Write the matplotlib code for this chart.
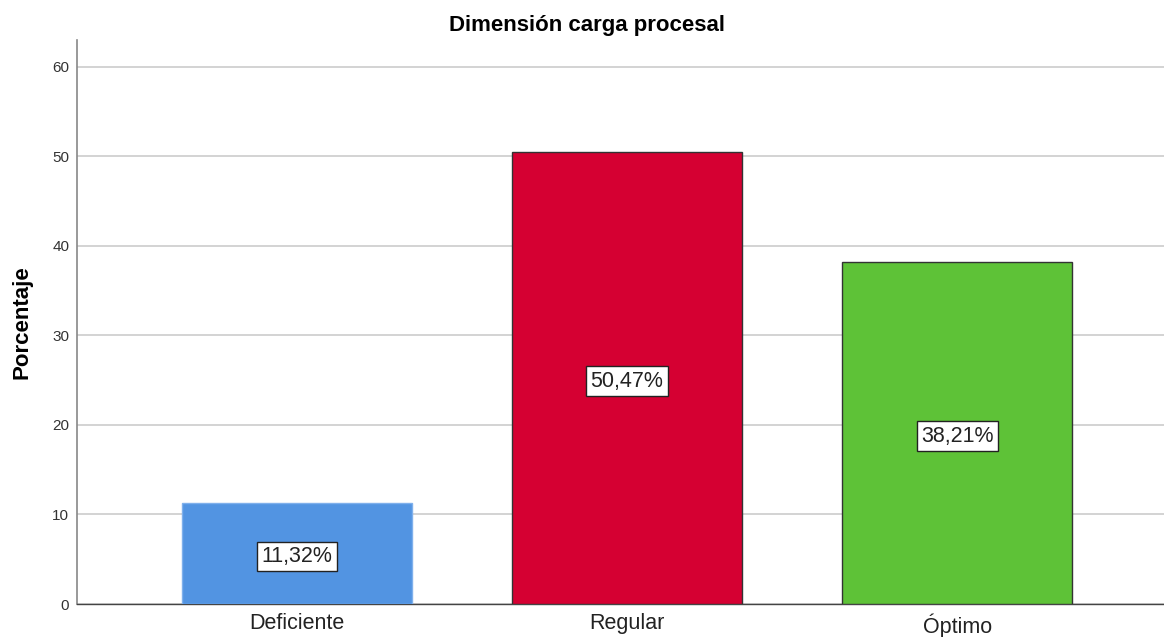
import numpy as np
import matplotlib.pyplot as plt

plt.rcParams['font.family'] = ['Liberation Sans', 'DejaVu Sans']

categorias = ['Deficiente', 'Regular', 'Óptimo']
porcentajes = [11.32, 50.47, 38.21]
etiquetas = ['11,32%', '50,47%', '38,21%']
colores = ['#5294e2', '#d50032', '#5ec237']
bordes = ['#7fb0ec', '#333333', '#333333']

fig = plt.figure(figsize=(11.64, 6.37), dpi=100)
ax = fig.add_axes([77 / 1164, 33 / 637, 1 - 77 / 1164, 564 / 637])

x = np.arange(len(categorias))
ax.bar(x, porcentajes, width=0.697, color=colores, edgecolor=bordes, linewidth=1.0, zorder=3)

# etiquetas de porcentaje en el centro de cada barra
for xi, v, lab in zip(x, porcentajes, etiquetas):
    ax.text(xi, v / 2 - 0.35, lab, ha='center', va='center', fontsize=15.5, color='#222222',
            zorder=4, bbox=dict(boxstyle='square,pad=0.2', facecolor='white', edgecolor='#222222', linewidth=1))

ax.set_xlim(-0.667, 2.627)
ax.set_ylim(0, 63)
ax.set_yticks([0, 10, 20, 30, 40, 50, 60])
ax.set_xticks(x)
ax.set_xticklabels(categorias, fontsize=15.5, color='#222222')
ax.tick_params(axis='y', length=0, labelsize=11, colors='#333333', pad=5.5)
ax.tick_params(axis='x', length=0, pad=6.5)
ax.grid(axis='y', color='#d0d0d0', linewidth=1.3, zorder=0)

for s in ['top', 'right']:
    ax.spines[s].set_visible(False)
ax.spines['left'].set_color('#888888')
ax.spines['left'].set_linewidth(1.2)
ax.spines['bottom'].set_color('#444444')
ax.spines['bottom'].set_linewidth(1.0)

ax.set_ylabel('Porcentaje', fontsize=16, fontweight='bold', labelpad=14)
fig.text(587 / 1164, 1 - 26 / 637, 'Dimensión carga procesal', ha='center', va='center',
         fontsize=16, fontweight='bold')

fig.savefig('out.png', dpi=100)
